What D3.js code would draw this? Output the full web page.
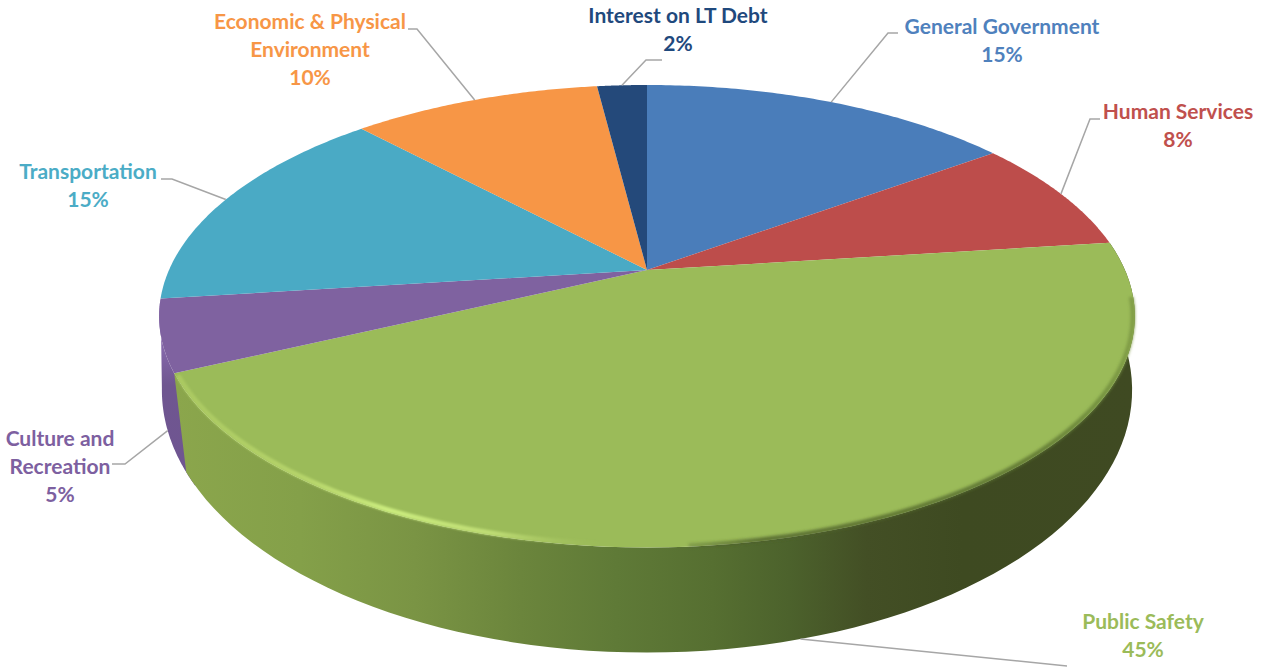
<!DOCTYPE html>
<html><head><meta charset="utf-8">
<script src="https://cdn.jsdelivr.net/npm/d3@7/dist/d3.min.js"></script>
<style>html,body{margin:0;padding:0;background:#fff}svg{display:block}text{font-family:Lato,"Open Sans",sans-serif;font-weight:700}</style>
</head><body><svg id="c" width="1267" height="668"></svg>
<script>
const categories = ["General Government","Human Services","Public Safety","Culture and Recreation","Transportation","Economic & Physical Environment","Interest on LT Debt"];
const values = [15,8,45,5,15,10,2];
const faceColors = ["#4a7dba","#bd4d4b","#9bbb59","#7f62a0","#4aaac5","#f79646","#24497a"];
const labelColors = ["#4f81bd","#c0504d","#9bbb59","#7d60a0","#4bacc6","#f79646","#1f497d"];
const labelLines = [["General Government"],["Human Services"],["Public Safety"],["Culture and","Recreation"],["Transportation"],["Economic & Physical","Environment"],["Interest on LT Debt"]];
// layout of annotations
const labelCx = [1002,1178,1143,60,88,310,678];
const labelTop = [27,112,622,439,172,22,16];
const elbows = [[[898,33],[888,33]],[[1100,119],[1090,119]],[[1067,666]],[[112,464],[125,464]],[[161,179],[172,179]],[[408,29],[417,29]],[[662,60],[646,60]]];
const anchorOnBase = [false,false,true,true,false,false,false];
const lineGap = 28;

const topFace = {cx:647,cy:270,rx:478,ry:222,k:0.2};
const baseRim = {cx:647,cy:356,rx:481,ry:258,k:0.13};
const rim = (a,P)=>{const X=Math.sin(a),Y=-Math.cos(a),d=1-P.k*Y;return [P.cx+P.rx*X/d,P.cy+P.ry*Y/d];};
const arcPts = (a0,a1,P)=>d3.range(0,1.0001,1/80).map(t=>rim(a0+(a1-a0)*t,P));
const line = d3.line();
const deg = Math.PI/180;

const svg = d3.select("#c");
const defs = svg.append("defs");
const f1 = defs.append("filter").attr("id","b1").attr("x","-5%").attr("y","-5%").attr("width","110%").attr("height","110%");
f1.append("feGaussianBlur").attr("stdDeviation",1.6);
const f2 = defs.append("filter").attr("id","b2").attr("x","-5%").attr("y","-5%").attr("width","110%").attr("height","110%");
f2.append("feGaussianBlur").attr("stdDeviation",1.1);
const grad=(id,x1,y1,x2,y2,stops)=>{const g=defs.append("linearGradient").attr("id",id).attr("gradientUnits","userSpaceOnUse").attr("x1",x1).attr("y1",y1).attr("x2",x2).attr("y2",y2);
 stops.forEach(s=>g.append("stop").attr("offset",s[0]).attr("stop-color",s[1]).attr("stop-opacity",s[2]==null?1:s[2]));};
grad("wall",175,0,1135,0,[[0,"#8ba64c"],[.13,"#84a049"],[.25,"#7a9444"],[.36,"#6b853c"],[.46,"#5f7a37"],[.56,"#566f31"],[.64,"#4c622c"],[.72,"#434f25"],[.82,"#3e4a21"],[1,"#3f4a22"]]);
grad("pwall",0,300,0,470,[[0,"#8f74b5"],[.3,"#8366a8"],[.5,"#6f5690"],[1,"#6f5591"]]);
grad("hi",175,0,600,0,[[0,"#b4d267",.6],[.3,"#bedc70",.75],[.5,"#cbec7e",1],[.75,"#c4e279",.85],[1,"#a9c661",0]]);
grad("shade",640,0,1135,0,[[0,"#4a5c28",0],[.25,"#4a5c28",.8],[.8,"#5b7230",.85],[.93,"#6f8c3c",.9],[1,"#7e9a44",.9]]);

const arcs = d3.pie().sort(null).value(d=>d)(values);
const gre = arcs[2], pur = arcs[3];

// walls
svg.append("path").attr("fill","url(#pwall)")
  .attr("d",line(arcPts(gre.endAngle-3*deg,pur.endAngle,topFace).concat(arcPts(pur.endAngle,gre.endAngle-3*deg,baseRim)))+"Z");
svg.append("path").attr("fill","url(#wall)")
  .attr("d",line(arcPts(gre.startAngle,gre.endAngle,topFace).concat(arcPts(gre.endAngle,gre.startAngle,baseRim)))+"Z");

// top faces
const apex=[topFace.cx,topFace.cy];
svg.append("g").selectAll("path").data(arcs).join("path")
  .attr("fill",(d,i)=>faceColors[i])
  .attr("d",d=>line([apex].concat(arcPts(d.startAngle,d.endAngle,topFace)))+"Z");

// bevel
svg.append("path").attr("fill","none").attr("stroke","url(#shade)").attr("stroke-width",4.5).attr("filter","url(#b1)")
  .attr("d",line(arcPts(gre.startAngle+14*deg,176*deg,{...topFace,rx:topFace.rx-2,ry:topFace.ry-1})));
svg.append("path").attr("fill","none").attr("stroke","url(#hi)").attr("stroke-width",5).attr("stroke-linecap","round").attr("filter","url(#b2)")
  .attr("d",line(arcPts(gre.endAngle-1.2*deg,170*deg,{...topFace,rx:topFace.rx-2,ry:topFace.ry-2})));

// leaders
const g = svg.append("g").attr("fill","none").attr("stroke","#a6a6a6").attr("stroke-width",1.5);
arcs.forEach((d,i)=>{
  const mid=(d.startAngle+d.endAngle)/2;
  const anchor=rim(mid,anchorOnBase[i]?baseRim:topFace);
  g.append("path").attr("d",line([anchor].concat(elbows[i].slice().reverse())));
});

// labels
arcs.forEach((d,i)=>{
  const lines=labelLines[i].concat([values[i]+"%"]);
  const t=svg.append("text").attr("text-anchor","middle").attr("fill",labelColors[i]).attr("font-size",21);
  lines.forEach((s,j)=>t.append("tspan").attr("x",labelCx[i]).attr("y",labelTop[i]+7+j*lineGap).text(s));
});
</script></body></html>
